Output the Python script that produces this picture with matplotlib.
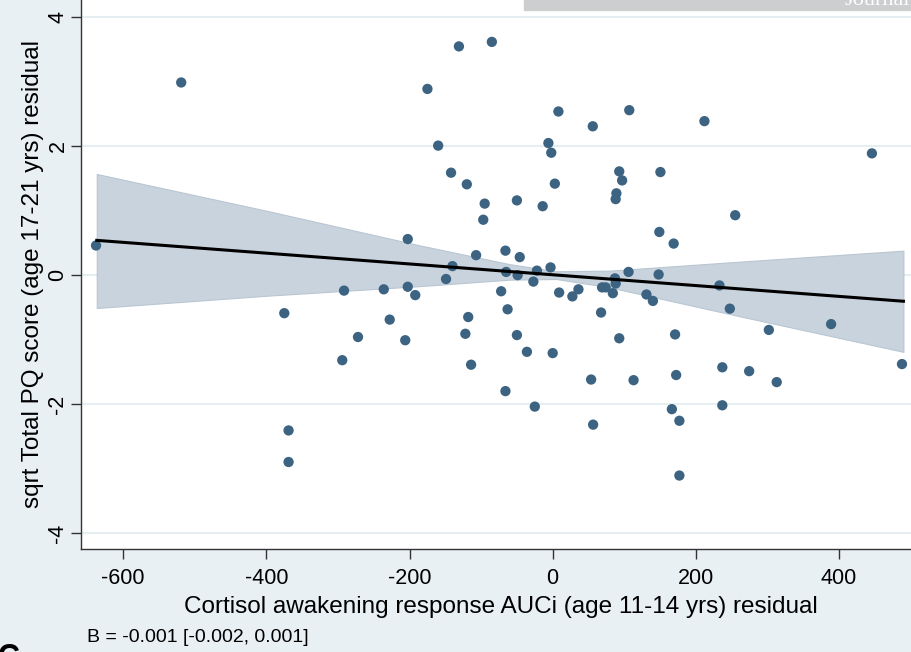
import numpy as np
import matplotlib
matplotlib.use('Agg')
import matplotlib.pyplot as plt
from matplotlib.patches import Rectangle

plt.rcParams['font.family'] = ['Liberation Sans', 'DejaVu Sans']
plt.rcParams['axes.unicode_minus'] = False

# residual scatter (x: CAR AUCi residual, y: sqrt PQ residual)
cortisol = [-638, -519, -375, -369, -369, -294, -291.5, -272, -236, -227.7,
            -206, -202.5, -202.5, -192, -175, -160, -149, -142, -140, -131,
            -122, -120, -118, -114, -107, -97, -95, -85, -72, -66,
            -66, -65, -63, -50, -50, -49, -46, -36, -27, -25,
            -22, -14, -6, -3, -2, 0, 3, 8, 9, 27.5,
            36, 53.7, 56, 56.5, 67.6, 69, 74, 84, 87, 88,
            88, 89, 93, 93, 97, 106, 107, 113, 131, 140,
            148, 149, 150.5, 166.5, 169, 171, 172.5, 177, 177, 212,
            233, 237, 237, 247.5, 255, 274.5, 302, 313, 389, 446, 488]
pq = [0.46, 2.99, -0.59, -2.41, -2.90, -1.32, -0.24, -0.96, -0.22, -0.69,
      -1.01, 0.56, -0.18, -0.31, 2.89, 2.01, -0.06, 1.59, 0.14, 3.55,
      -0.91, 1.41, -0.65, -1.39, 0.31, 0.86, 1.11, 3.62, -0.25, 0.38,
      -1.80, 0.05, -0.53, 1.16, -0.93, 0.0, 0.28, -1.19, -0.10, -2.04,
      0.07, 1.07, 2.05, 0.12, 1.90, -1.21, 1.42, 2.54, -0.27, -0.33,
      -0.22, -1.62, 2.31, -2.32, -0.58, -0.19, -0.19, -0.28, -0.05, -0.13,
      1.18, 1.27, 1.61, -0.98, 1.47, 0.05, 2.56, -1.63, -0.30, -0.40,
      0.01, 0.67, 1.60, -2.08, 0.49, -0.92, -1.55, -2.26, -3.11, 2.39,
      -0.16, -1.43, -2.02, -0.52, 0.93, -1.49, -0.85, -1.66, -0.76, 1.89, -1.38]

# fitted line and 95% CI band
fit_x = [-637, 490]
fit_y = [0.54, -0.405]
band_x = [-637, -400, -185, -60, 5, 80, 262, 490]
band_hi = [1.57, 1.00, 0.46, 0.17, 0.06, 0.07, 0.21, 0.38]
band_lo = [-0.51, -0.32, -0.17, -0.07, -0.06, -0.19, -0.64, -1.19]

xticks = [-600, -400, -200, 0, 200, 400]
yticks = [-4, -2, 0, 2, 4]

bg = '#e8f0f3'
fig = plt.figure(figsize=(9.12, 6.52), dpi=100, facecolor=bg)
ax = fig.add_axes([81/912, 103/652, 831/912, 549/652])
ax.set_facecolor('white')

ax.fill_between(band_x, band_lo, band_hi, color='#c9d3dd', edgecolor='#b9c6d2',
                linewidth=0.8, zorder=2)
ax.scatter(cortisol, pq, s=55, color='#3c6482', edgecolor='none', zorder=3)
ax.plot(fit_x, fit_y, color='black', linewidth=2.2, zorder=4)

ax.set_xlim(-659, 502)
ax.set_ylim(-4.25, 4.27)
ax.set_xticks(xticks)
ax.set_yticks(yticks)
ax.grid(axis='y', color='#e6eef2', linewidth=1.5, zorder=0)
ax.set_axisbelow(True)

for s in ['top', 'right']:
    ax.spines[s].set_visible(False)
for s in ['left', 'bottom']:
    ax.spines[s].set_color('#333333')
    ax.spines[s].set_linewidth(1.0)

ax.tick_params(axis='both', length=7, width=1, color='#333333', labelsize=15.5)
ax.tick_params(axis='x', pad=7)
ax.tick_params(axis='y', pad=2)
for t in ax.get_yticklabels():
    t.set_rotation(90)
    t.set_va('center')

ax.set_xlabel('Cortisol awakening response AUCi (age 11-14 yrs) residual', fontsize=17.5)
ax.set_ylabel('sqrt Total PQ score (age 17-21 yrs) residual', fontsize=17.5)
ax.xaxis.set_label_coords(0.505, -0.085)
ax.yaxis.set_label_coords(-0.0445, 0.5)

fig.text(87/912, 1 - 637/652, 'B = -0.001 [-0.002, 0.001]', fontsize=14, va='center')

# page header strip and panel letter cut by the crop
fig.patches.append(Rectangle((524/912, 1 - 10/652), 388/912, 10/652,
                             transform=fig.transFigure, color='#cdced0', zorder=5))
fig.text(845/912, 1 - 5/652, 'Journal', color='white', fontsize=16,
         family='Liberation Serif', va='baseline', zorder=6)
fig.text(-2/912, 1 - 643/652, 'C', fontsize=22, fontweight='bold', va='top', zorder=6)

fig.savefig('out.png', dpi=100, facecolor=bg)
